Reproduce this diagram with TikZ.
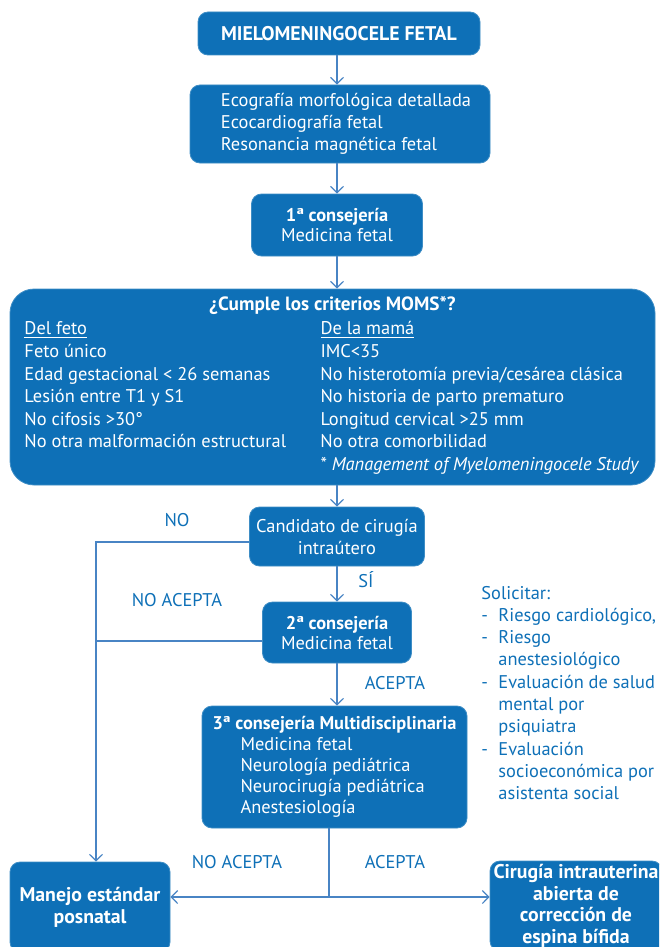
\documentclass[tikz,border=0pt]{standalone}
\usepackage{fontspec}
\setmainfont{PT Sans}
\usetikzlibrary{arrows.meta}
\definecolor{fblue}{RGB}{14,112,183}
\definecolor{lblue}{RGB}{72,132,196}

\begin{document}
\begin{tikzpicture}[x=.5pt, y=-.5pt,
    box/.style={fill=fblue, draw=fblue!80!white, line width=.4pt, rounded corners=5pt, text=white,
      inner sep=0pt, align=center, font=\fontsize{9.2}{11}\selectfont},
    big/.style={font=\fontsize{9.9}{11.1}\selectfont\bfseries},
    lbl/.style={text=fblue, inner sep=0pt, font=\fontsize{9.2}{11}\selectfont},
    arr/.style={draw=lblue, line width=.6pt, -{Straight Barb[length=3.2pt, width=6.5pt]}},
    ln/.style={draw=lblue, line width=.6pt}]

   \useasboundingbox(0, 0) rectangle (659, 947);
   \clip(0, 0) rectangle (659, 947);

      \node[box, big, minimum width=141pt, minimum height=21.5pt] at(339, 33.5)(mielo){MIELOMENINGOCELE FETAL};
      \node[box, minimum width=150pt, minimum height=39pt] at(340, 124)(eco){%
        \begin{tabular}{@{\hspace{6pt}}l@{}}
          Ecografía morfológica detallada\\
          Ecocardiografía fetal\\
          Resonancia magnética fetal
        \end{tabular}};
      \node[box, minimum width=85.5pt, minimum height=31pt] at(337, 225)(cons1){\textbf{1ª consejería}\\[-1pt] Medicina fetal};

      \node[box, rounded corners=12pt, minimum width=322.5pt, minimum height=98pt] at(332.5, 387)(moms){%
        {\fontsize{9.6}{11}\selectfont\bfseries ¿Cumple los criterios MOMS*?}\\[1pt]
        \fontsize{9.2}{11.3}\selectfont
        \begin{tabular}[t]{@{}p{148pt}@{}p{160pt}@{}}
          \underline{Del feto} & \underline{De la mamá}\\
          Feto único & IMC<35\\
          Edad gestacional < 26 semanas & No histerotomía previa/cesárea clásica\\
          Lesión entre T1 y S1 & No historia de parto prematuro\\
          No cifosis >30° & Longitud cervical >25 mm\\
          No otra malformación estructural & No otra comorbilidad\\
           & * \textit{Management of Myelomeningocele Study}
        \end{tabular}};

      \node[box, minimum width=87.5pt, minimum height=29.5pt] at(337, 536.5)(cand){Candidato de cirugía\\ intraútero};
      \node[box, minimum width=74.5pt, minimum height=30.5pt] at(337, 632.5)(cons2){\textbf{2ª consejería}\\[-1pt] Medicina fetal};
      \node[box, align=left, minimum width=132.5pt, minimum height=61pt] at(334.5, 767)(cons3){%
        \textbf{3ª consejería Multidisciplinaria}\\[-.5pt]
        \hspace*{14pt}Medicina fetal\\[-.5pt]
        \hspace*{14pt}Neurología pediátrica\\[-.5pt]
        \hspace*{14pt}Neurocirugía pediátrica\\[-.5pt]
        \hspace*{14pt}Anestesiología};

      \node[box, big, minimum width=80pt, minimum height=45pt] at(90, 907)(manejo){Manejo estándar\\ posnatal};
      \node[box, big, minimum width=86pt, minimum height=45pt] at(576, 906)(cirugia){Cirugía intrauterina\\[-.3pt] abierta de\\[-.3pt] corrección de\\[-.3pt] espina bífida};

      \node[lbl, anchor=north west, align=left] at(481, 583)(solic){%
        \fontsize{9.2}{11.15}\selectfont
        \begin{tabular}{@{}p{8.5pt}@{}l@{}}
          \multicolumn{2}{@{}l}{Solicitar:}\\
          - & Riesgo cardiológico,\\
          - & Riesgo\\
            & anestesiológico\\
          - & Evaluación de salud\\
            & mental por\\
            & psiquiatra\\
          - & Evaluación\\
            & socioeconómica por\\
            & asistenta social
        \end{tabular}};

      \node[lbl] at(177, 520)(no){NO};
      \node[lbl] at(366, 580)(si){SÍ};
      \node[lbl] at(177, 600)(noac1){NO ACEPTA};
      \node[lbl] at(395, 683)(ac1){ACEPTA};
      \node[lbl] at(237, 862)(noac2){NO ACEPTA};
      \node[lbl] at(395, 862)(ac2){ACEPTA};

   \coordinate(lft) at(96, 542);
   \coordinate(lft2) at(96, 641);
   \coordinate(split) at(329, 897);

      \draw[arr](mielo.south -| cand) to (eco.north -| cand);
      \draw[arr](eco.south -| cand) to (cons1);
      \draw[arr](cons1) to (cons1 |- moms.north);
      \draw[arr](cand |- moms.south) to (cand);
      \draw[arr](cand) to (cons2);
      \draw[arr](cons2) to (cons2 |- cons3.north);

      \draw[arr](cand.west |- lft) -- (lft) -- (lft |- manejo.north);
      \draw[ln](cons2.west |- lft2) to (lft2);

      \draw[ln](cons3.south -| split) to (split);
      \draw[arr](split) to (split -| manejo.east);
      \draw[arr](split) to (split -| cirugia.west);

\end{tikzpicture}
\end{document}
